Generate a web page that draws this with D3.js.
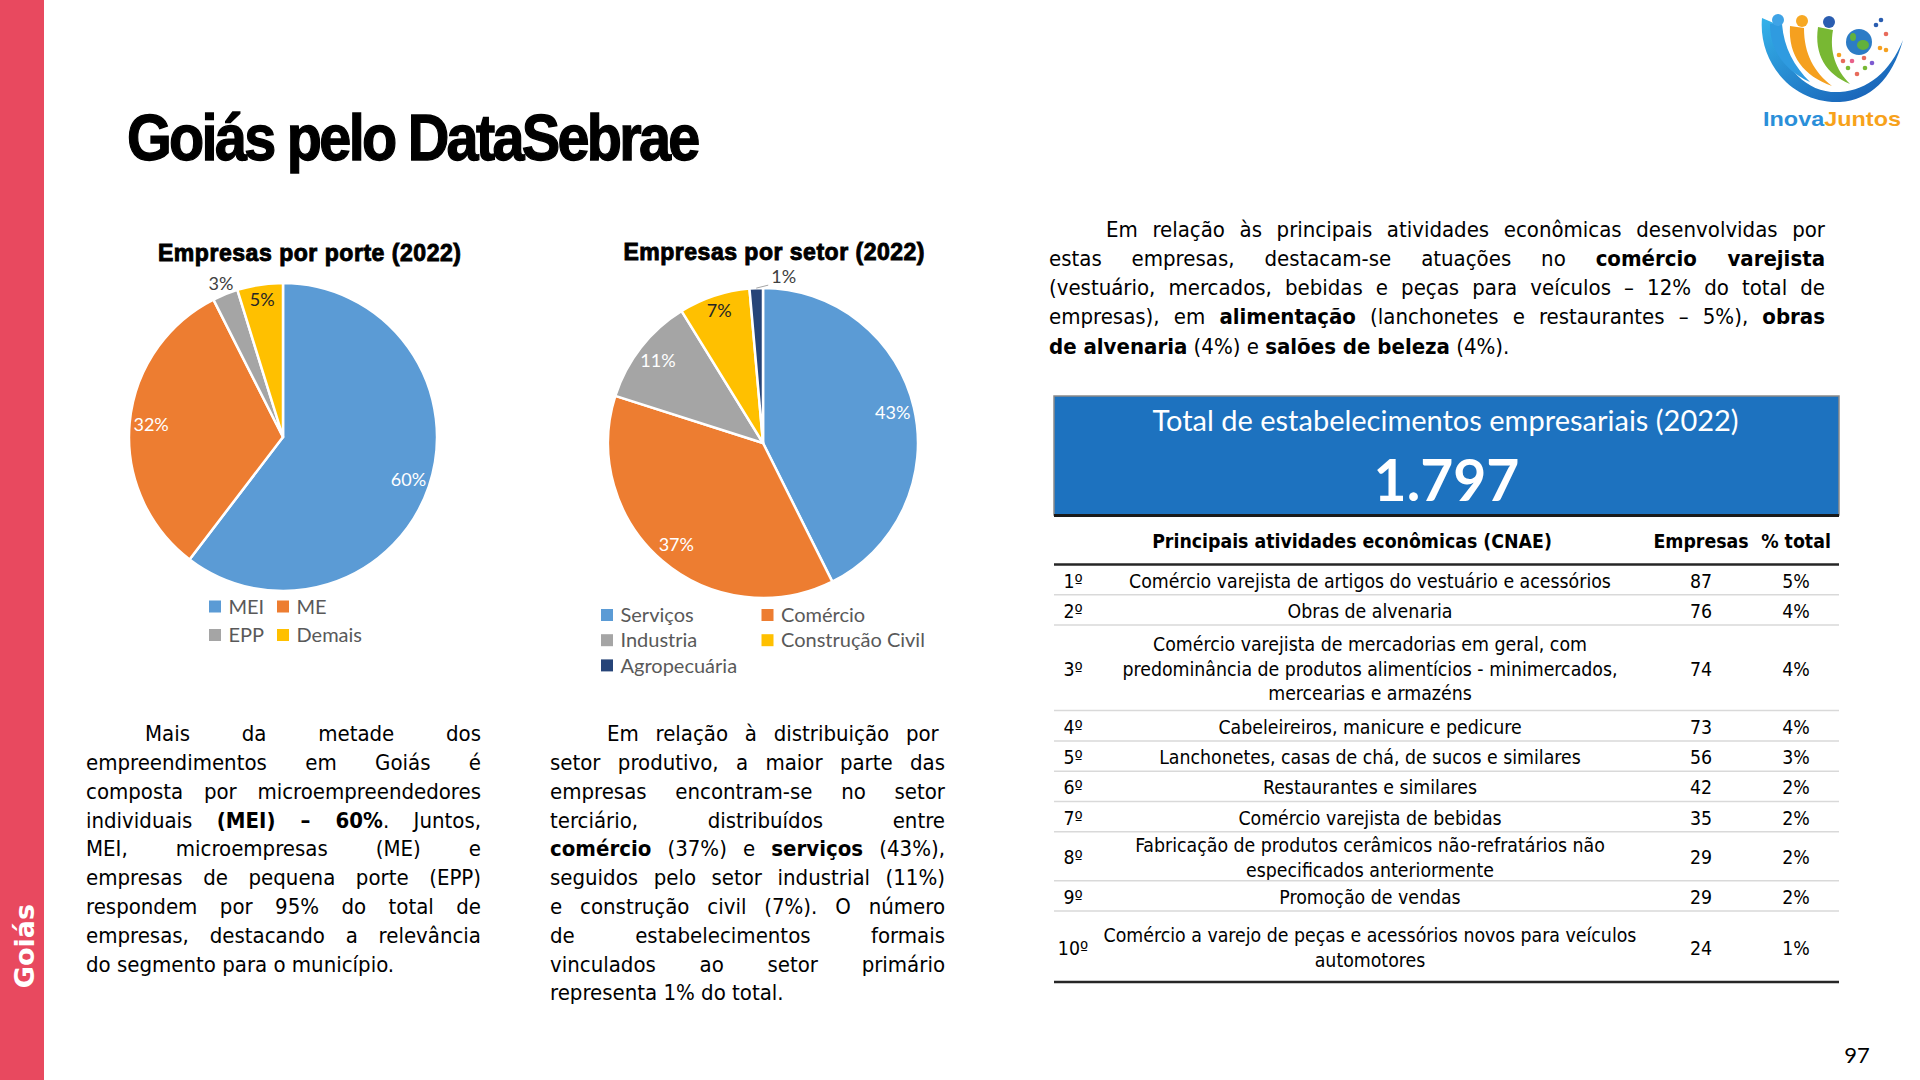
<!DOCTYPE html>
<html><head><meta charset="utf-8">
<script src="https://cdn.jsdelivr.net/npm/d3@7"></script>
<style>
html,body{margin:0;padding:0;background:#fff;}
#page{position:relative;width:1920px;height:1080px;overflow:hidden;background:#fff;}
#svg{position:absolute;left:0;top:0;}
.para-line{position:absolute;text-align:justify;text-align-last:justify;font-family:"DejaVu Sans Condensed","DejaVu Sans",sans-serif;font-stretch:condensed;font-size:22px;color:#000;}
.para-line.last{text-align-last:left;}
.para-line b{font-weight:bold;}
</style></head>
<body><div id="page"><svg id="svg" width="1920" height="1080"></svg></div>
<script>
// ---------------- DATA ----------------
const porteCategories = ["MEI", "ME", "EPP", "Demais"];
const porteValues = [1085, 578, 48, 86];
const porteColors = ["#5B9BD5", "#ED7D31", "#A5A5A5", "#FFC000"];

const setorCategories = ["Serviços", "Comércio", "Industria", "Construção Civil", "Agropecuária"];
const setorValues = [766, 670, 203, 133, 25];
const setorColors = ["#5B9BD5", "#ED7D31", "#A5A5A5", "#FFC000", "#264478"];

const totalEstabelecimentos = 1797;

const rankLabels = ["1º", "2º", "3º", "4º", "5º", "6º", "7º", "8º", "9º", "10º"];
const activityNames = [
  "Comércio varejista de artigos do vestuário e acessórios",
  "Obras de alvenaria",
  "Comércio varejista de mercadorias em geral, com predominância de produtos alimentícios - minimercados, mercearias e armazéns",
  "Cabeleireiros, manicure e pedicure",
  "Lanchonetes, casas de chá, de sucos e similares",
  "Restaurantes e similares",
  "Comércio varejista de bebidas",
  "Fabricação de produtos cerâmicos não-refratários não especificados anteriormente",
  "Promoção de vendas",
  "Comércio a varejo de peças e acessórios novos para veículos automotores"
];
const activityCompanies = [87, 76, 74, 73, 56, 42, 35, 29, 29, 24];
const tableHeaders = ["Principais atividades econômicas (CNAE)", "Empresas", "% total"];

const textLeft = [
  "Mais da metade dos",
  "empreendimentos em Goiás é",
  "composta por microempreendedores",
  "individuais **(MEI) – 60%**. Juntos,",
  "MEI, microempresas (ME) e",
  "empresas de pequena porte (EPP)",
  "respondem por 95% do total de",
  "empresas, destacando a relevância",
  "do segmento para o município."
];
const textMiddle = [
  "Em relação à distribuição por\u00a0",
  "setor produtivo, a maior parte das",
  "empresas encontram-se no setor",
  "terciário, distribuídos entre",
  "**comércio** (37%) e **serviços** (43%),",
  "seguidos pelo setor industrial (11%)",
  "e construção civil (7%). O número",
  "de estabelecimentos formais",
  "vinculados ao setor primário",
  "representa 1% do total."
];
const textRight = [
  "Em relação às principais atividades econômicas desenvolvidas por",
  "estas empresas, destacam-se atuações no **comércio varejista**",
  "(vestuário, mercados, bebidas e peças para veículos – 12% do total de",
  "empresas), em **alimentação** (lanchonetes e restaurantes – 5%), **obras**",
  "**de alvenaria** (4%) e **salões de beleza** (4%)."
];

// ---------------- PAGE FRAME ----------------
const svg = d3.select("#svg");
const page = d3.select("#page");
const ptBR = d3.formatLocale({decimal: ",", thousands: ".", grouping: [3], currency: ["R$", ""]});

svg.append("rect").attr("x", 0).attr("y", 0).attr("width", 44).attr("height", 1080).attr("fill", "#E8495F");
svg.append("text").attr("transform", "translate(24,946) rotate(-90)")
  .attr("text-anchor", "middle").attr("dy", "0.36em")
  .attr("font-family", "'DejaVu Sans', Verdana, sans-serif").attr("font-weight", "bold")
  .attr("font-size", 27).attr("fill", "#fff").text("Goiás");

svg.append("text").attr("transform", "translate(127,160) scale(0.9,1)")
  .attr("font-family", "'Liberation Sans', Arial, sans-serif").attr("font-weight", "bold")
  .attr("font-size", 64).attr("fill", "#000").attr("stroke", "#000").attr("stroke-width", 1.3)
  .style("letter-spacing", "-3px")
  .text("Goiás pelo DataSebrae");

svg.append("text").attr("x", 1857).attr("y", 1063).attr("text-anchor", "middle")
  .attr("font-family", "Lato, sans-serif").attr("font-size", 22).attr("fill", "#000").text("97");

// ---------------- LOGO ----------------
(function logo() {
  const g = svg.append("g").attr("transform", "translate(1740,0)");
  const defs = svg.append("defs");
  const gr = defs.append("linearGradient").attr("id", "lgBlue").attr("x1", 0).attr("y1", 0).attr("x2", 1).attr("y2", 1);
  gr.append("stop").attr("offset", 0).attr("stop-color", "#35b3ea");
  gr.append("stop").attr("offset", 1).attr("stop-color", "#1456b0");
  g.append("path").attr("d", "M22,18 C18,62 52,104 100,102 C130,100 152,80 163,40 C150,72 128,90 100,92 C62,94 38,60 36,24 Z").attr("fill", "url(#lgBlue)");
  g.append("path").attr("d", "M50,26 C48,56 64,76 92,86 C74,72 64,54 64,28 Z").attr("fill", "#f5a01f");
  g.append("path").attr("d", "M78,27 C74,55 86,74 110,84 C96,70 89,52 93,30 Z").attr("fill", "#78b833");
  g.append("path").attr("d", "M30,24 C30,50 44,70 70,82 C54,66 44,48 42,24 Z").attr("fill", "#2f9be0");
  g.append("circle").attr("cx", 38).attr("cy", 20).attr("r", 6).attr("fill", "#3fa3e6");
  g.append("circle").attr("cx", 62).attr("cy", 21).attr("r", 6).attr("fill", "#f7a823");
  g.append("circle").attr("cx", 89).attr("cy", 22).attr("r", 6).attr("fill", "#2a5db0");
  g.append("circle").attr("cx", 119).attr("cy", 42).attr("r", 13).attr("fill", "#2c7cc6");
  g.append("ellipse").attr("cx", 123).attr("cy", 45).attr("rx", 6).attr("ry", 5).attr("fill", "#62b13c");
  g.append("ellipse").attr("cx", 113).attr("cy", 37).attr("rx", 3).attr("ry", 4).attr("fill", "#62b13c");
  const dots = [[136,25,"#2a5db0"],[141,20,"#2a5db0"],[146,34,"#e86b5b"],[140,48,"#f5a01f"],[146,50,"#f5a01f"],[103,61,"#e86b5b"],[112,61,"#e85f8a"],[124,58,"#e86b5b"],[132,63,"#7d5bd1"],[108,68,"#78b833"],[125,68,"#78b833"],[117,74,"#e86b5b"],[99,55,"#f5a01f"]];
  g.selectAll("circle.dot").data(dots).join("circle").attr("class", "dot")
    .attr("cx", d => d[0]).attr("cy", d => d[1]).attr("r", 2.3).attr("fill", d => d[2]);
  const t = g.append("text").attr("x", 23).attr("y", 126)
    .attr("font-family", "'Liberation Sans', Arial, sans-serif").attr("font-weight", "bold")
    .attr("font-size", 21).attr("textLength", 138).attr("lengthAdjust", "spacingAndGlyphs");
  t.append("tspan").attr("fill", "#2b8fd9").text("Inova");
  t.append("tspan").attr("fill", "#f7a21b").text("Juntos");
})();

// ---------------- PIES ----------------
function drawPie(cfg) {
  const data = cfg.categories.map((c, i) => ({name: c, value: cfg.values[i], color: cfg.colors[i]}));
  const total = d3.sum(data, d => d.value);
  const pctFmt = v => Math.round(v / total * 100) + "%";

  svg.append("text").attr("x", cfg.titleX).attr("y", cfg.titleY).attr("text-anchor", "middle")
    .attr("font-family", "'Liberation Sans', Arial, sans-serif").attr("font-weight", "bold")
    .attr("font-size", 23).attr("fill", "#000").attr("stroke", "#000").attr("stroke-width", 0.9)
    .attr("textLength", cfg.titleW).attr("lengthAdjust", "spacing").text(cfg.title);

  const g = svg.append("g").attr("transform", `translate(${cfg.cx},${cfg.cy})`);
  const arcs = d3.pie().sort(null).value(d => d.value)(data);
  const arc = d3.arc().innerRadius(0).outerRadius(cfg.r);
  g.selectAll("path").data(arcs).join("path")
    .attr("d", arc).attr("fill", d => d.data.color)
    .attr("stroke", "#fff").attr("stroke-width", 2.5).attr("stroke-linejoin", "round");

  const pt = (ang, rr) => [rr * Math.sin(ang), -rr * Math.cos(ang)];
  arcs.forEach(a => {
    const p = a.data.value / total;
    const mid = (a.startAngle + a.endAngle) / 2;
    const lab = g.append("text").attr("font-family", "Lato, sans-serif").attr("font-size", 18)
      .attr("dy", "0.36em").text(pctFmt(a.data.value));
    if (p < 0.02) {
      const p0 = pt(mid, cfg.r * 1.0), p1 = [p0[0] + 12, p0[1] - 3];
      g.append("line").attr("x1", p0[0]).attr("y1", p0[1]).attr("x2", p1[0]).attr("y2", p1[1])
        .attr("stroke", "#a6a6a6").attr("stroke-width", 1);
      lab.attr("x", p1[0] + 3).attr("y", p1[1] - 9).attr("text-anchor", "start").attr("fill", "#404040");
    } else if (p < 0.04) {
      const c = pt(mid, cfg.r * 1.075);
      lab.attr("x", c[0]).attr("y", c[1]).attr("text-anchor", "middle").attr("fill", "#404040");
    } else {
      const c = pt(mid, cfg.r * (p < 0.08 ? 0.9 : 0.86));
      const dark = d3.lab(a.data.color).l > 75;
      lab.attr("x", c[0]).attr("y", c[1]).attr("text-anchor", "middle").attr("fill", dark ? "#262626" : "#fff");
    }
  });

  const lg = svg.append("g").attr("transform", `translate(${cfg.legX},${cfg.legY})`);
  const items = lg.selectAll("g").data(data).join("g")
    .attr("transform", (d, i) => `translate(${(i % cfg.legCols) * cfg.legColW},${Math.floor(i / cfg.legCols) * cfg.legRowH})`);
  items.append("rect").attr("x", 0).attr("y", -6).attr("width", 12).attr("height", 12).attr("fill", d => d.color);
  items.append("text").attr("x", 19.5).attr("dy", "0.36em").attr("font-family", "Lato, sans-serif")
    .attr("font-size", 20).attr("fill", "#595959").text(d => d.name);
}

drawPie({categories: porteCategories, values: porteValues, colors: porteColors,
  title: "Empresas por porte (2022)", titleX: 309.5, titleY: 261, titleW: 303,
  cx: 283, cy: 437, r: 154, legX: 209, legY: 606.5, legCols: 2, legColW: 68, legRowH: 28.5});
drawPie({categories: setorCategories, values: setorValues, colors: setorColors,
  title: "Empresas por setor (2022)", titleX: 774, titleY: 260, titleW: 301,
  cx: 763, cy: 443, r: 155, legX: 601, legY: 615, legCols: 2, legColW: 160.5, legRowH: 25.2});

// ---------------- PARAGRAPHS ----------------
function drawParagraph(lines, cfg) {
  const fs = 22;
  const off = (cfg.lh - 1.164 * fs) / 2 + 0.928 * fs;
  lines.forEach((txt, i) => {
    const last = i === lines.length - 1;
    const ind = i === 0 ? cfg.indent : 0;
    const div = page.append("div").attr("class", "para-line" + (last ? " last" : ""))
      .style("left", (cfg.x + ind) + "px").style("width", (cfg.width - ind) + "px")
      .style("top", (cfg.baseline - off + i * cfg.lh) + "px")
      .style("line-height", cfg.lh + "px").style("font-size", fs + "px")
      .html(txt.replace(/\*\*(.+?)\*\*/g, "<b>$1</b>"));
    const node = div.node();
    let ls = 0;
    while (node.offsetHeight > cfg.lh * 1.5 && ls > -3) {
      ls -= 0.1;
      div.style("letter-spacing", ls.toFixed(2) + "px");
    }
  });
}
drawParagraph(textLeft, {x: 86, width: 395, baseline: 742.3, lh: 28.8, indent: 59});
drawParagraph(textMiddle, {x: 550, width: 395, baseline: 742.3, lh: 28.8, indent: 57});
drawParagraph(textRight, {x: 1049, width: 776, baseline: 237.3, lh: 29.1, indent: 57});

// ---------------- TOTAL BOX ----------------
const boxX = 1054, boxW = 785;
svg.append("rect").attr("x", boxX).attr("y", 396).attr("width", boxW).attr("height", 119)
  .attr("fill", "#1D72BF").attr("stroke", "#8a8a8a").attr("stroke-width", 1.5);
svg.append("line").attr("x1", boxX).attr("x2", boxX + boxW).attr("y1", 515.5).attr("y2", 515.5)
  .attr("stroke", "#1a1a1a").attr("stroke-width", 3);
svg.append("text").attr("x", boxX + boxW / 2 - 1).attr("y", 431).attr("text-anchor", "middle")
  .attr("font-family", "Lato, sans-serif").attr("font-size", 29).attr("fill", "#fff")
  .text("Total de estabelecimentos empresariais (2022)");
svg.append("text").attr("x", boxX + boxW / 2).attr("y", 501).attr("text-anchor", "middle")
  .attr("font-family", "Lato, sans-serif").attr("font-weight", "bold").attr("font-size", 57).attr("fill", "#fff")
  .text(ptBR.format(",")(totalEstabelecimentos));

// ---------------- TABLE ----------------
(function table() {
  const left = 1054, right = 1839;
  const colRank = 1073, colDesc = 1370, colEmp = 1701, colPct = 1796;
  const headY = 548, headLine = 564.5, bottom = 982;
  const tfont = "'DejaVu Sans Condensed', 'DejaVu Sans', sans-serif";
  const lineH = 24.5;
  const rowH = {1: 30.3, 2: 49, 3: 85.5};
  const tg = svg.append("g");

  // calibrate font size so the first description matches the reference width
  const probe = tg.append("text").attr("font-family", tfont).attr("font-size", 20).text(activityNames[0]);
  const fs = 20 * 482 / probe.node().getComputedTextLength();
  probe.remove();
  const meas = tg.append("text").attr("font-family", tfont).attr("font-size", fs);
  const width = s => { meas.text(s); return meas.node().getComputedTextLength(); };
  const wrap = s => {
    const words = s.split(" "), out = [];
    let cur = "";
    words.forEach(w => {
      const t = cur ? cur + " " + w : w;
      if (width(t) > 540 && cur) { out.push(cur); cur = w; } else cur = t;
    });
    out.push(cur);
    return out;
  };

  const hdr = [[tableHeaders[0], 1352], [tableHeaders[1], colEmp], [tableHeaders[2], colPct]];
  tg.selectAll("text.hdr").data(hdr).join("text").attr("class", "hdr")
    .attr("x", d => d[1]).attr("y", headY).attr("text-anchor", "middle")
    .attr("font-family", tfont).attr("font-weight", "bold").attr("font-size", fs).attr("fill", "#000")
    .text(d => d[0]);

  const total = totalEstabelecimentos;
  let y = headLine;
  const rows = activityNames.map((n, i) => {
    const lines = wrap(n);
    const h = i === activityNames.length - 1 ? bottom - y : (rowH[lines.length] || 30.3 * lines.length);
    const r = {rank: rankLabels[i], lines, emp: activityCompanies[i],
      pct: Math.round(activityCompanies[i] / total * 100) + "%", top: y, h};
    y += h;
    return r;
  });
  meas.remove();

  rows.forEach((r, i) => {
    const cy = r.top + r.h / 2 + 1;
    const base = cy + fs * 0.36;
    if (i > 0) tg.append("line").attr("x1", left).attr("x2", right).attr("y1", r.top).attr("y2", r.top)
      .attr("stroke", "#d9d9d9").attr("stroke-width", 1.5);
    const tx = (x, yy, s) => tg.append("text").attr("x", x).attr("y", yy).attr("text-anchor", "middle")
      .attr("font-family", tfont).attr("font-size", fs).attr("fill", "#000").text(s);
    tx(colRank, base, r.rank);
    r.lines.forEach((l, k) => tx(colDesc, base + (k - (r.lines.length - 1) / 2) * lineH, l));
    tx(colEmp, base, r.emp);
    tx(colPct, base, r.pct);
  });
  tg.append("line").attr("x1", left).attr("x2", right).attr("y1", headLine).attr("y2", headLine)
    .attr("stroke", "#262626").attr("stroke-width", 2.5);
  tg.append("line").attr("x1", left).attr("x2", right).attr("y1", bottom).attr("y2", bottom)
    .attr("stroke", "#262626").attr("stroke-width", 2.5);
})();
</script>
</body></html>
